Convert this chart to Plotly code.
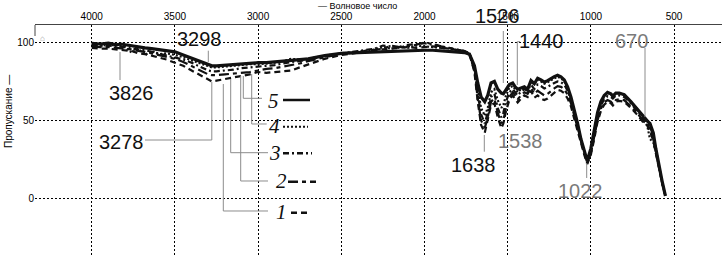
import plotly.graph_objects as go

# ---------------- data ----------------
wavenumber = [4000, 3950, 3900, 3850, 3826, 3800, 3760, 3720, 3680, 3640, 3600, 3550, 3500, 3450,
              3400, 3350, 3300, 3278, 3250, 3200, 3150, 3100, 3050, 3000, 2950, 2900, 2850, 2800,
              2750, 2700, 2600, 2500, 2400, 2300, 2250, 2200, 2150, 2100, 2050, 2000, 1950, 1900,
              1850, 1800, 1760, 1730, 1700, 1680, 1660, 1638, 1620, 1600, 1580, 1560, 1538, 1526,
              1510, 1490, 1470, 1455, 1440, 1420, 1400, 1380, 1360, 1340, 1320, 1300, 1280, 1260,
              1240, 1220, 1200, 1180, 1160, 1140, 1120, 1100, 1080, 1060, 1040, 1022, 1000, 980,
              960, 940, 920, 900, 880, 868, 850, 830, 800, 760, 720, 680, 660, 645, 625, 610,
              590, 570, 552]

curve5 = [99.5, 99, 99.5, 98.5, 99, 98.5, 98, 97, 96.5, 96, 95.5, 94.5, 94, 92,
          90, 88, 85.5, 85, 85, 85.5, 86, 86.5, 86.5, 87, 87, 87.5, 88, 88,
          88.5, 89.5, 91.5, 93, 93.5, 94, 94, 94.5, 94.5, 95, 95, 95, 95, 94.5,
          94.5, 94, 93.5, 92.5, 85, 74, 65, 62, 66, 74, 75, 70, 67.5, 67,
          70, 73, 74, 71.5, 70, 71, 71.5, 70, 75.5, 73.5, 77, 76, 74.5, 75.5,
          77, 78, 79, 78, 76, 71.5, 65, 57, 48, 38, 30, 24, 32, 43,
          55, 62, 66, 68, 67, 65.5, 67.5, 67.5, 66.5, 62, 57, 51.5, 49.5, 48, 42, 32,
          20, 10, 1.5]

curve4 = [99, 98.5, 98, 98.5, 98, 97, 93.5, 96, 92, 94.5, 92.5, 93, 92, 90.5,
          88.5, 86.5, 84.5, 84, 84, 84.5, 85, 85.5, 86, 86, 86.5, 87, 88, 89.5,
          89, 89.5, 91.5, 93, 94, 95.5, 97, 96, 97.5, 96.5, 98, 97.5, 97, 96.5,
          96, 95, 94.5, 93, 84, 70, 58, 53, 58, 68, 70, 63, 58, 60,
          66, 71, 72, 70, 68, 70, 71, 70, 75, 73, 76, 75, 73.5, 74.5,
          76, 77, 78, 77, 75, 70.5, 64, 56, 47, 37.5, 29.5, 23.5, 31, 42,
          54, 61.5, 65.5, 67.5, 67, 65.5, 67.5, 67.5, 66.5, 62, 57, 51, 46, 38, 36, 30,
          19, 9.5, 1.5]

curve3 = [98.5, 98, 98, 97.5, 97.5, 97, 96, 95.5, 95, 94, 93, 92, 90.5, 89,
          87, 84.5, 82, 81.5, 81.5, 82, 82.5, 83.5, 84, 84.5, 85, 85.5, 86.5, 87.5,
          88, 89, 91, 93, 94.5, 96, 98, 97.5, 96.5, 98.5, 99, 99.5, 98.5, 97.5,
          96.5, 95.5, 94.5, 93, 83, 67, 54, 48, 55, 65, 67, 58, 52, 55,
          62, 68, 70, 68, 66, 68.5, 70, 69, 73, 70, 73, 72, 70.5, 71.5,
          73, 74, 75, 74.5, 73, 69, 63, 55, 46, 37, 29, 23, 30, 40.5,
          52, 59.5, 63.5, 65.5, 65, 64, 66, 66, 65, 61, 56, 50.5, 48.5, 46, 40, 31,
          19, 9.5, 1.5]

curve2 = [97.5, 97, 97, 96.5, 96.5, 96, 95.5, 94.5, 94, 93, 92, 91, 89.5, 87.5,
          85, 82, 79.5, 79, 79, 79.5, 80, 80.5, 81, 82, 83, 83.5, 84.5, 85.5,
          86.5, 88, 90.5, 92.5, 94, 95.5, 96, 98, 97, 97.5, 98.5, 100, 99, 97.5,
          96.5, 95.5, 94.5, 93, 82, 64, 50, 45, 52, 62, 64, 55, 48, 50,
          58, 65, 68, 66, 63.5, 66, 68, 67, 71, 67, 69, 67.5, 66, 67,
          69, 70.5, 72, 71.5, 70, 66.5, 61, 53, 44.5, 36, 28.5, 22.5, 29, 39,
          50, 57.5, 61.5, 63, 62, 60.5, 63, 63.5, 63, 59, 54.5, 49, 47.5, 44, 38, 30,
          18.5, 9, 1.5]

curve1 = [96.5, 96, 96, 95.5, 95.5, 95, 94.5, 93, 92.5, 91.5, 90.5, 89, 87, 85,
          82, 79, 76, 75, 75.5, 76.5, 77.5, 78.5, 79.5, 81, 80.5, 81, 81.5, 82,
          84, 86, 89.5, 92, 93.5, 95, 95.5, 96, 96.5, 97, 96.5, 97, 97.5, 96.5,
          96, 95, 94, 92.5, 81, 62, 47, 42, 50, 60, 61, 52, 45, 48,
          56, 63, 66, 64, 61.5, 64, 66, 65, 69, 64.5, 66, 64, 63, 64,
          66, 68, 69.5, 69, 67.5, 64, 59, 51, 43, 35, 28, 22, 28, 38,
          49, 56, 60, 62, 61, 59.5, 62, 62.5, 62, 58, 53.5, 48, 46.5, 43, 37, 29,
          18, 9, 1.5]

series_names = ["1", "2", "3", "4", "5"]
x_ticks = [4000, 3500, 3000, 2500, 2000, 1500, 1000, 500]
y_ticks = [0, 50, 100]
peak_labels = ["3826", "3298", "3278", "1638", "1526", "1538", "1440", "1022", "670"]

assert all(len(c) == len(wavenumber) for c in [curve1, curve2, curve3, curve4, curve5])

# ---------------- layout helpers (pixel -> paper) ----------------
W, H = 725, 267
ML, MR, MT, MB = 35, 3, 25, 10
PW, PH = W - ML - MR, H - MT - MB


def fx(px):
    return (px - ML) / PW


def fy(py):
    return (H - MB - py) / PH


BLACK = "#111111"
GRAY = "#7a7a7a"
LEADER = "#8c8c8c"

styles = {
    "1": dict(dash="6px,4px", width=2.2),
    "2": dict(dash="10px,4px,4px,4px", width=2.2),
    "3": dict(dash="6px,3px,2px,3px", width=2.2),
    "4": dict(dash="2px,2px", width=2.2),
    "5": dict(dash="solid", width=3.2),
}

fig = go.Figure()
for name, vals in zip(series_names, [curve1, curve2, curve3, curve4, curve5]):
    st = styles[name]
    fig.add_trace(go.Scatter(x=wavenumber, y=vals, mode="lines", name=name,
                             line=dict(color=BLACK, width=st["width"], dash=st["dash"]),
                             showlegend=False))

fig.update_layout(
    width=W, height=H,
    margin=dict(l=ML, r=MR, t=MT, b=MB, pad=0),
    paper_bgcolor="white", plot_bgcolor="white",
    font=dict(family="Arial, Liberation Sans, sans-serif", color=BLACK),
    xaxis=dict(range=[4341, 212], side="top", tickvals=x_ticks,
               ticktext=[str(v) for v in x_ticks], tickfont=dict(size=10, color="#000"),
               showgrid=True, gridcolor="#000", griddash="2px,2px", gridwidth=1,
               showline=True, linecolor="#444", linewidth=1, ticks="", zeroline=False),
    yaxis=dict(range=[-37.7, 111.2], tickvals=y_ticks, ticktext=[str(v) for v in y_ticks],
               tickfont=dict(size=10, color="#000"),
               showgrid=True, gridcolor="#000", griddash="2px,2px", gridwidth=1,
               showline=False, ticks="", zeroline=False),
)

# axis titles
ann = []
ann.append(dict(text="— Волновое число", x=fx(357), y=fy(6), xref="paper", yref="paper",
                showarrow=False, font=dict(size=9, color="#000"), xanchor="center", yanchor="middle"))
ann.append(dict(text="Пропускание —", x=fx(8), y=fy(112), xref="paper", yref="paper",
                showarrow=False, textangle=-90, font=dict(size=10, color="#000"),
                xanchor="center", yanchor="middle"))

# peak labels: (text, px, py, color)
peak_pos = {
    "3826": (131.7, 92.5, BLACK),
    "3298": (199, 39, BLACK),
    "3278": (121.7, 142, BLACK),
    "1638": (473.3, 165, BLACK),
    "1526": (497.5, 15.5, BLACK),
    "1538": (520, 140.5, GRAY),
    "1440": (541.7, 41, BLACK),
    "1022": (580, 190.5, GRAY),
    "670": (631.7, 41, GRAY),
}
for t in peak_labels:
    px, py, col = peak_pos[t]
    ann.append(dict(text=t, x=fx(px), y=fy(py), xref="paper", yref="paper", showarrow=False,
                    font=dict(size=20, color=col), xanchor="center", yanchor="middle"))

# series number labels
num_pos = {"5": (273, 101), "4": (274, 125.5), "3": (275, 152.5), "2": (281, 180.5), "1": (281, 211.5)}
for n in series_names:
    px, py = num_pos[n]
    ann.append(dict(text="<i>%s</i>" % n, x=fx(px), y=fy(py), xref="paper", yref="paper",
                    showarrow=False, font=dict(size=21, color=BLACK,
                                               family="Liberation Serif, Times New Roman, serif"),
                    xanchor="center", yanchor="middle"))

# small gray cursor mark near the 100 label
ann.append(dict(text="⌂", x=fx(42), y=fy(39), xref="paper", yref="paper", showarrow=False,
                font=dict(size=8, color="#999999"), xanchor="center", yanchor="middle"))
fig.update_layout(annotations=ann)

# leader lines (pixel polylines)
leaders = [
    [(120, 52), (120, 80)],
    [(208.3, 50.7), (208.3, 62)],
    [(211.8, 82), (211.8, 140), (145, 140)],
    [(223.3, 84), (223.3, 211), (268, 211)],
    [(230.7, 79), (230.7, 152.7), (268, 152.7)],
    [(240.7, 76), (240.7, 181), (268, 181)],
    [(243.3, 76), (243.3, 98.3), (262, 98.3)],
    [(251.7, 74), (251.7, 124), (266.7, 124)],
    [(503.3, 31), (503.3, 83)],
    [(520, 41.7), (517.3, 41.7), (517.3, 85)],
    [(645, 48), (645, 117)],
    [(484.3, 135), (484.3, 151.7)],
    [(586.7, 163), (586.7, 178)],
]
shapes = []
for pts in leaders:
    path = "M " + " L ".join("%.5f,%.5f" % (fx(a), fy(b)) for a, b in pts)
    shapes.append(dict(type="path", path=path, xref="paper", yref="paper",
                       line=dict(color=LEADER, width=1)))

# legend line samples
samples = {"5": (283, 310, 100), "4": (283, 308, 126.7), "3": (283, 312, 153.3),
           "2": (288, 316, 181.7), "1": (291, 311, 212.7)}
for n in series_names:
    a, b, yy = samples[n]
    st = styles[n]
    shapes.append(dict(type="line", x0=fx(a), x1=fx(b), y0=fy(yy), y1=fy(yy),
                       xref="paper", yref="paper",
                       line=dict(color=BLACK, width=2.5 if n != "4" else 2, dash=st["dash"])))

# small left tick on top axis
shapes.append(dict(type="line", x0=fx(35), x1=fx(35), y0=fy(25), y1=fy(36), xref="paper",
                   yref="paper", line=dict(color="#444", width=1)))
fig.update_layout(shapes=shapes)

fig.write_html("out.html")
